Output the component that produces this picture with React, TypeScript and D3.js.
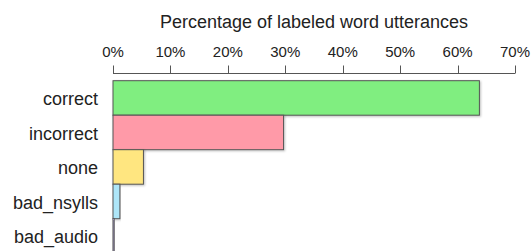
import React from "react";
import * as d3 from "d3";

const categories = ["correct", "incorrect", "none", "bad_nsylls", "bad_audio"];
const values = [63.8, 29.7, 5.3, 1.2, 0.2];
const colors = ["#80ee80", "#ff9aa8", "#ffe680", "#aee6f8", "#b8a8e8"];
const tickValues = [0, 10, 20, 30, 40, 50, 60, 70];
const title = "Percentage of labeled word utterances";

export default function App() {
  const W = 532, H = 251;
  const x = d3.scaleLinear().domain([0, 70]).range([113, 515]);
  const y = d3.scaleBand<string>().domain(categories).range([80.7, 253.2]).padding(0);
  const axisY = 73.5;
  return (
    <svg width={W} height={H} style={{ position: "absolute", left: 0, top: 0 }} fontFamily="Liberation Sans, Arial, sans-serif">
      <defs>
        <filter id="sh" x="-5%" y="-5%" width="115%" height="130%">
          <feDropShadow dx="1" dy="1" stdDeviation="0.8" floodColor="#000" floodOpacity="0.25" />
        </filter>
      </defs>
      <rect x={0} y={0} width={W} height={H} fill="#fff" />
      <text x={(x(0) + x(70)) / 2} y={28} textAnchor="middle" fontSize={18} fill="#222">{title}</text>
      <line x1={x(0)} x2={x(70)} y1={axisY} y2={axisY} stroke="#555" strokeWidth={1} />
      {tickValues.map((t) => (
        <g key={t}>
          <line x1={Math.round(x(t)) + 0.5} x2={Math.round(x(t)) + 0.5} y1={axisY} y2={axisY - 8} stroke="#555" strokeWidth={1} />
          <text x={x(t)} y={56.5} textAnchor="middle" fontSize={15} fill="#222">{t}%</text>
        </g>
      ))}
      {categories.map((c, i) => (
        <g key={c}>
          <rect
            x={x(0)}
            y={y(c)!}
            width={Math.max(x(values[i]) - x(0), 1)}
            height={y.bandwidth()}
            fill={colors[i]}
            stroke="#555"
            strokeWidth={1}
            filter="url(#sh)"
          />
          <text x={98} y={y(c)! + y.bandwidth() / 2 + 7.5} textAnchor="end" fontSize={18} fill="#222">{c}</text>
        </g>
      ))}
    </svg>
  );
}
